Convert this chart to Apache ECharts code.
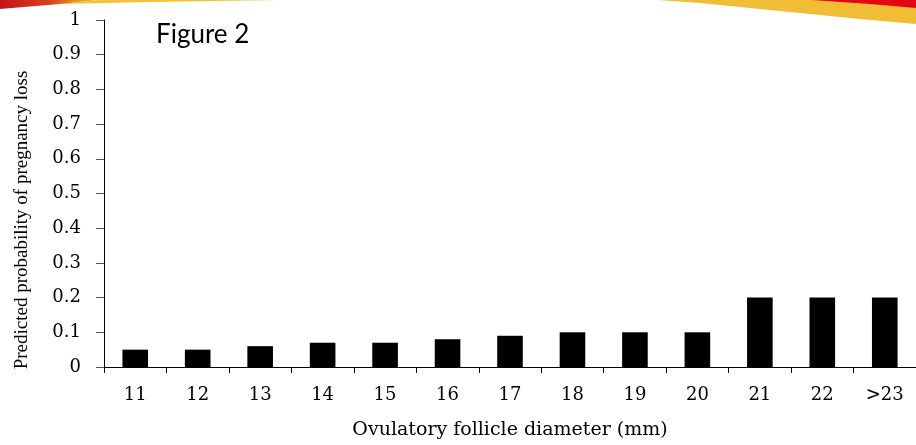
<!DOCTYPE html>
<html>
<head>
<meta charset="utf-8">
<script src="https://cdn.jsdelivr.net/npm/echarts@6/dist/echarts.min.js"></script>
<style>html,body{margin:0;padding:0;background:#fff}#c{width:916px;height:445px}</style>
</head>
<body>
<div id="c"></div>
<script>
var categories = ['11','12','13','14','15','16','17','18','19','20','21','22','>23'];
var lossProbability = [0.05,0.05,0.06,0.07,0.07,0.08,0.09,0.10,0.10,0.10,0.20,0.20,0.20];
var yTicks = {min: 0, max: 1, interval: 0.1};

var chart = echarts.init(document.getElementById('c'), null, {renderer: 'canvas'});
chart.setOption({
  animation: false,
  backgroundColor: '#fff',
  title: {
    text: 'Figure 2', left: 151, top: 17,
    textStyle: {fontFamily: 'Lato', fontSize: 26, fontWeight: 'normal', color: '#000'}
  },
  grid: {left: 104, top: 20, width: 821, height: 352, containLabel: false},
  xAxis: {
    type: 'category', data: categories,
    boundaryGap: true,
    axisLine: {lineStyle: {color: '#000', width: 1}},
    axisTick: {show: true, length: 6, lineStyle: {color: '#000'}},
    axisLabel: {margin: 19, fontFamily: 'DejaVu Serif', fontSize: 18, color: '#000'},
    name: 'Ovulatory follicle diameter (mm)', nameLocation: 'middle', nameGap: 54,
    nameTextStyle: {fontFamily: 'DejaVu Serif', fontSize: 19, color: '#000'}
  },
  yAxis: {
    type: 'value', min: yTicks.min, max: yTicks.max, interval: yTicks.interval,
    splitLine: {show: false},
    axisLine: {show: true, lineStyle: {color: '#000', width: 1}},
    axisTick: {show: true, length: 8, lineStyle: {color: '#555'}},
    axisLabel: {margin: 23, fontFamily: 'DejaVu Serif', fontSize: 18, color: '#000'}
  },
  graphic: [
    {type: 'text', x: 22, y: 220, rotation: Math.PI / 2,
      style: {text: 'Predicted probability of pregnancy loss', fontFamily: 'Liberation Serif', fontSize: 19,
        fill: '#000', textAlign: 'center', textVerticalAlign: 'middle'}},
    {type: 'polygon', silent: true,
      shape: {points: [[0,0],[100,0],[60,4],[0,9]]},
      style: {fill: new echarts.graphic.LinearGradient(0,0,1,0,[{offset:0,color:'#c4161c'},{offset:0.5,color:'#d8401a'},{offset:0.8,color:'#eba02a'},{offset:1,color:'#f2c237'}])}},
    {type: 'polygon', silent: true,
      shape: {points: [[100,0],[280,0],[150,2],[60,4]]},
      style: {fill: '#f2c237'}},
    {type: 'polygon', silent: true,
      shape: {points: [[658,0],[916,0],[916,24],[860,19],[800,13],[740,7],[700,3]]},
      style: {fill: '#f0bd35'}},
    {type: 'polygon', silent: true,
      shape: {points: [[812,0],[916,0],[916,8],[870,4]]},
      style: {fill: '#e30613'}}
  ],
  series: [{
    type: 'bar', data: lossProbability, barWidth: '41%',
    itemStyle: {color: '#000'}
  }]
});
</script>
</body>
</html>
